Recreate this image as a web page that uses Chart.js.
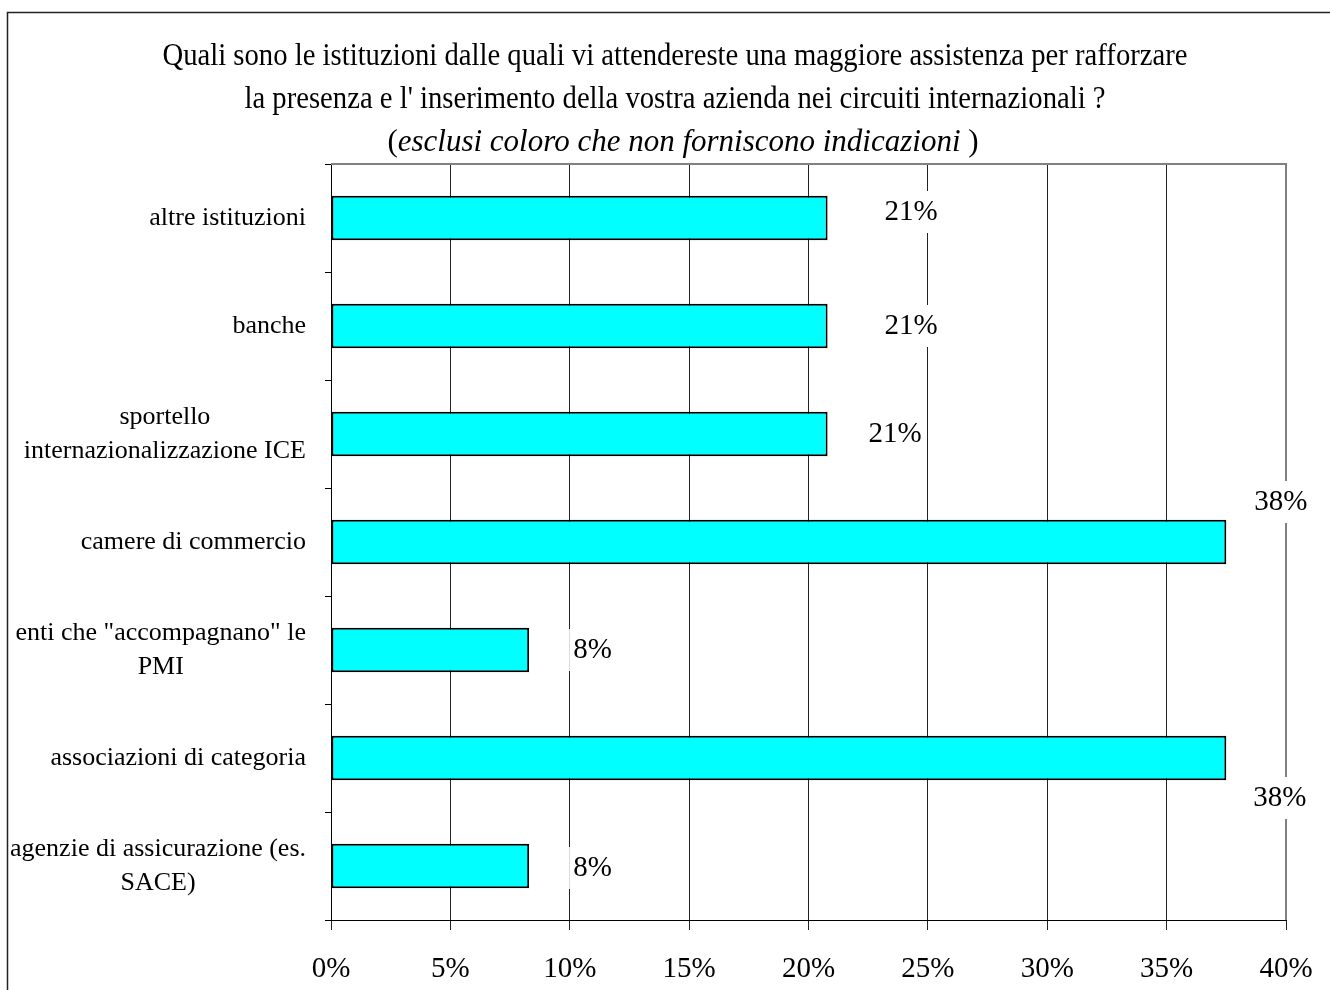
<!DOCTYPE html>
<html>
<head>
<meta charset="utf-8">
<script src="https://cdn.jsdelivr.net/npm/chart.js@4/dist/chart.umd.min.js"></script>
<style>
    html, body { margin: 0; padding: 0; background: #fff; }
    #grafico { display: block; }
</style>
</head>
<body>
<canvas id="grafico" width="1330" height="990"></canvas>
<script>
// Dati
const categorie = [
    ["altre istituzioni"],
    ["banche"],
    ["sportello", "internazionalizzazione ICE"],
    ["camere di commercio"],
    ['enti che "accompagnano" le', "PMI"],
    ["associazioni di categoria"],
    ["agenzie di assicurazione (es.", "SACE)"]
];
const valori = [20.8, 20.8, 20.8, 37.5, 8.3, 37.5, 8.3];
const etichetteValori = ["21%", "21%", "21%", "38%", "8%", "38%", "8%"];
const tickAsseX = ["0%", "5%", "10%", "15%", "20%", "25%", "30%", "35%", "40%"];
const titoloRighe = [
    "Quali sono le istituzioni dalle quali vi attendereste una maggiore assistenza per rafforzare",
    "la presenza e l' inserimento della vostra azienda nei circuiti internazionali ?"
];
const titoloCorsivo = "esclusi coloro che non forniscono indicazioni";

const FONT = "'Liberation Serif', 'Times New Roman', serif";

// Cornice esterna e titolo
const cornice = {
    id: "cornice",
    beforeDraw(chart) {
        const c = chart.ctx;
        c.save();
        c.fillStyle = "#fff";
        c.fillRect(0, 0, chart.width, chart.height);
        c.strokeStyle = "#222";
        c.lineWidth = 1.5;
        c.strokeRect(7.5, 12.5, chart.width + 20, chart.height + 20);

        // titolo (le prime due righe leggermente condensate come nell'originale)
        const cx = 675, sx = 0.925;
        c.fillStyle = "#000";
        c.textBaseline = "alphabetic";
        c.font = "31px " + FONT;
        const basi = [65, 108, 151];
        titoloRighe.forEach((riga, i) => {
            c.save();
            c.translate(cx, basi[i]);
            c.scale(sx, 1);
            c.textAlign = "center";
            c.fillText(riga, 0, 0);
            c.restore();
        });
        // terza riga con parte in corsivo
        c.save();
        c.translate(cx + 8, basi[2]);
        c.textAlign = "left";
        const fN = "31px " + FONT, fI = "italic 31px " + FONT;
        c.font = fN; const wA = c.measureText("(").width; const wC = c.measureText(")").width;
        c.font = fI; const wB = c.measureText(titoloCorsivo + " ").width;
        let x = -(wA + wB + wC) / 2;
        c.font = fN; c.fillText("(", x, 0); x += wA;
        c.font = fI; c.fillText(titoloCorsivo, x, 0); x += wB;
        c.font = fN; c.fillText(")", x, 0);
        c.restore();
        c.restore();
    },
    beforeDatasetsDraw(chart) {
        // bordo grigio dell'area del grafico (sopra e a destra)
        const a = chart.chartArea, c = chart.ctx;
        c.save();
        c.strokeStyle = "#808080";
        c.lineWidth = 2;
        c.beginPath();
        c.moveTo(a.left, a.top);
        c.lineTo(a.right, a.top);
        c.lineTo(a.right, a.bottom);
        c.stroke();
        c.restore();
    }
};

// Etichette delle categorie: blocco allineato a destra, righe centrate
const etichetteAsseY = {
    id: "etichetteAsseY",
    afterDraw(chart) {
        const c = chart.ctx, y = chart.scales.y;
        c.save();
        c.font = "26px " + FONT;
        c.fillStyle = "#000";
        c.textAlign = "center";
        c.textBaseline = "middle";
        const destra = 306, interlinea = 34;
        categorie.forEach((righe, i) => {
            const cy = y.getPixelForValue(i);
            const larg = Math.max(...righe.map(r => c.measureText(r).width));
            const cx = destra - larg / 2;
            righe.forEach((r, j) => {
                c.fillText(r, cx, cy + (j - (righe.length - 1) / 2) * interlinea);
            });
        });
        c.restore();
    }
};

// Etichette dei valori con sfondo bianco
const etichetteValoriPlugin = {
    id: "etichetteValori",
    afterDatasetsDraw(chart, args, opts) {
        const c = chart.ctx;
        const meta = chart.getDatasetMeta(0);
        c.save();
        c.font = "29px " + FONT;
        c.textAlign = "left";
        c.textBaseline = "middle";
        meta.data.forEach((barra, i) => {
            const [dx, dy] = opts.spostamenti[i];
            const testo = etichetteValori[i];
            const w = c.measureText(testo).width;
            const x = barra.x + dx, yy = barra.y + dy;
            c.fillStyle = "#fff";
            c.fillRect(x - 4, yy - 21, w + 8, 42);
            c.fillStyle = "#000";
            c.fillText(testo, x, yy);
        });
        c.restore();
    }
};

const ctx = document.getElementById("grafico").getContext("2d");
new Chart(ctx, {
    type: "bar",
    data: {
        labels: categorie.map(r => r.join(" ")),
        datasets: [{
            data: valori,
            backgroundColor: "#00ffff",
            borderColor: "#000",
            borderWidth: 2,
            borderSkipped: false,
            barPercentage: 0.41,
            categoryPercentage: 1
        }]
    },
    plugins: [cornice, etichetteAsseY, etichetteValoriPlugin],
    options: {
        indexAxis: "y",
        responsive: false,
        animation: false,
        layout: { padding: { top: 164, right: 44, left: 0, bottom: 0 } },
        plugins: {
            legend: { display: false },
            tooltip: { enabled: false },
            etichetteValori: {
                // posizione del testo rispetto alla fine della barra (dx) e al centro (dy)
                spostamenti: [[57, -6], [57, 0], [41, 0], [28, -40], [44, 0], [27, 40], [44, 2]]
            }
        },
        scales: {
            x: {
                min: 0,
                max: 40,
                ticks: {
                    stepSize: 5,
                    color: "#000",
                    padding: 22,
                    font: { family: FONT, size: 29 },
                    callback: (v, i) => tickAsseX[i]
                },
                grid: { color: "#222", lineWidth: 1, tickLength: 10 },
                border: { color: "#000", width: 1 },
                afterFit: s => { s.height = 70; s.paddingLeft = 0; s.paddingRight = 0; }
            },
            y: {
                ticks: { display: false },
                grid: { drawOnChartArea: false, tickLength: 6, color: "#000", offset: true },
                border: { color: "#000", width: 1 },
                afterFit: s => { s.width = 331; }
            }
        }
    }
});
</script>
</body>
</html>
